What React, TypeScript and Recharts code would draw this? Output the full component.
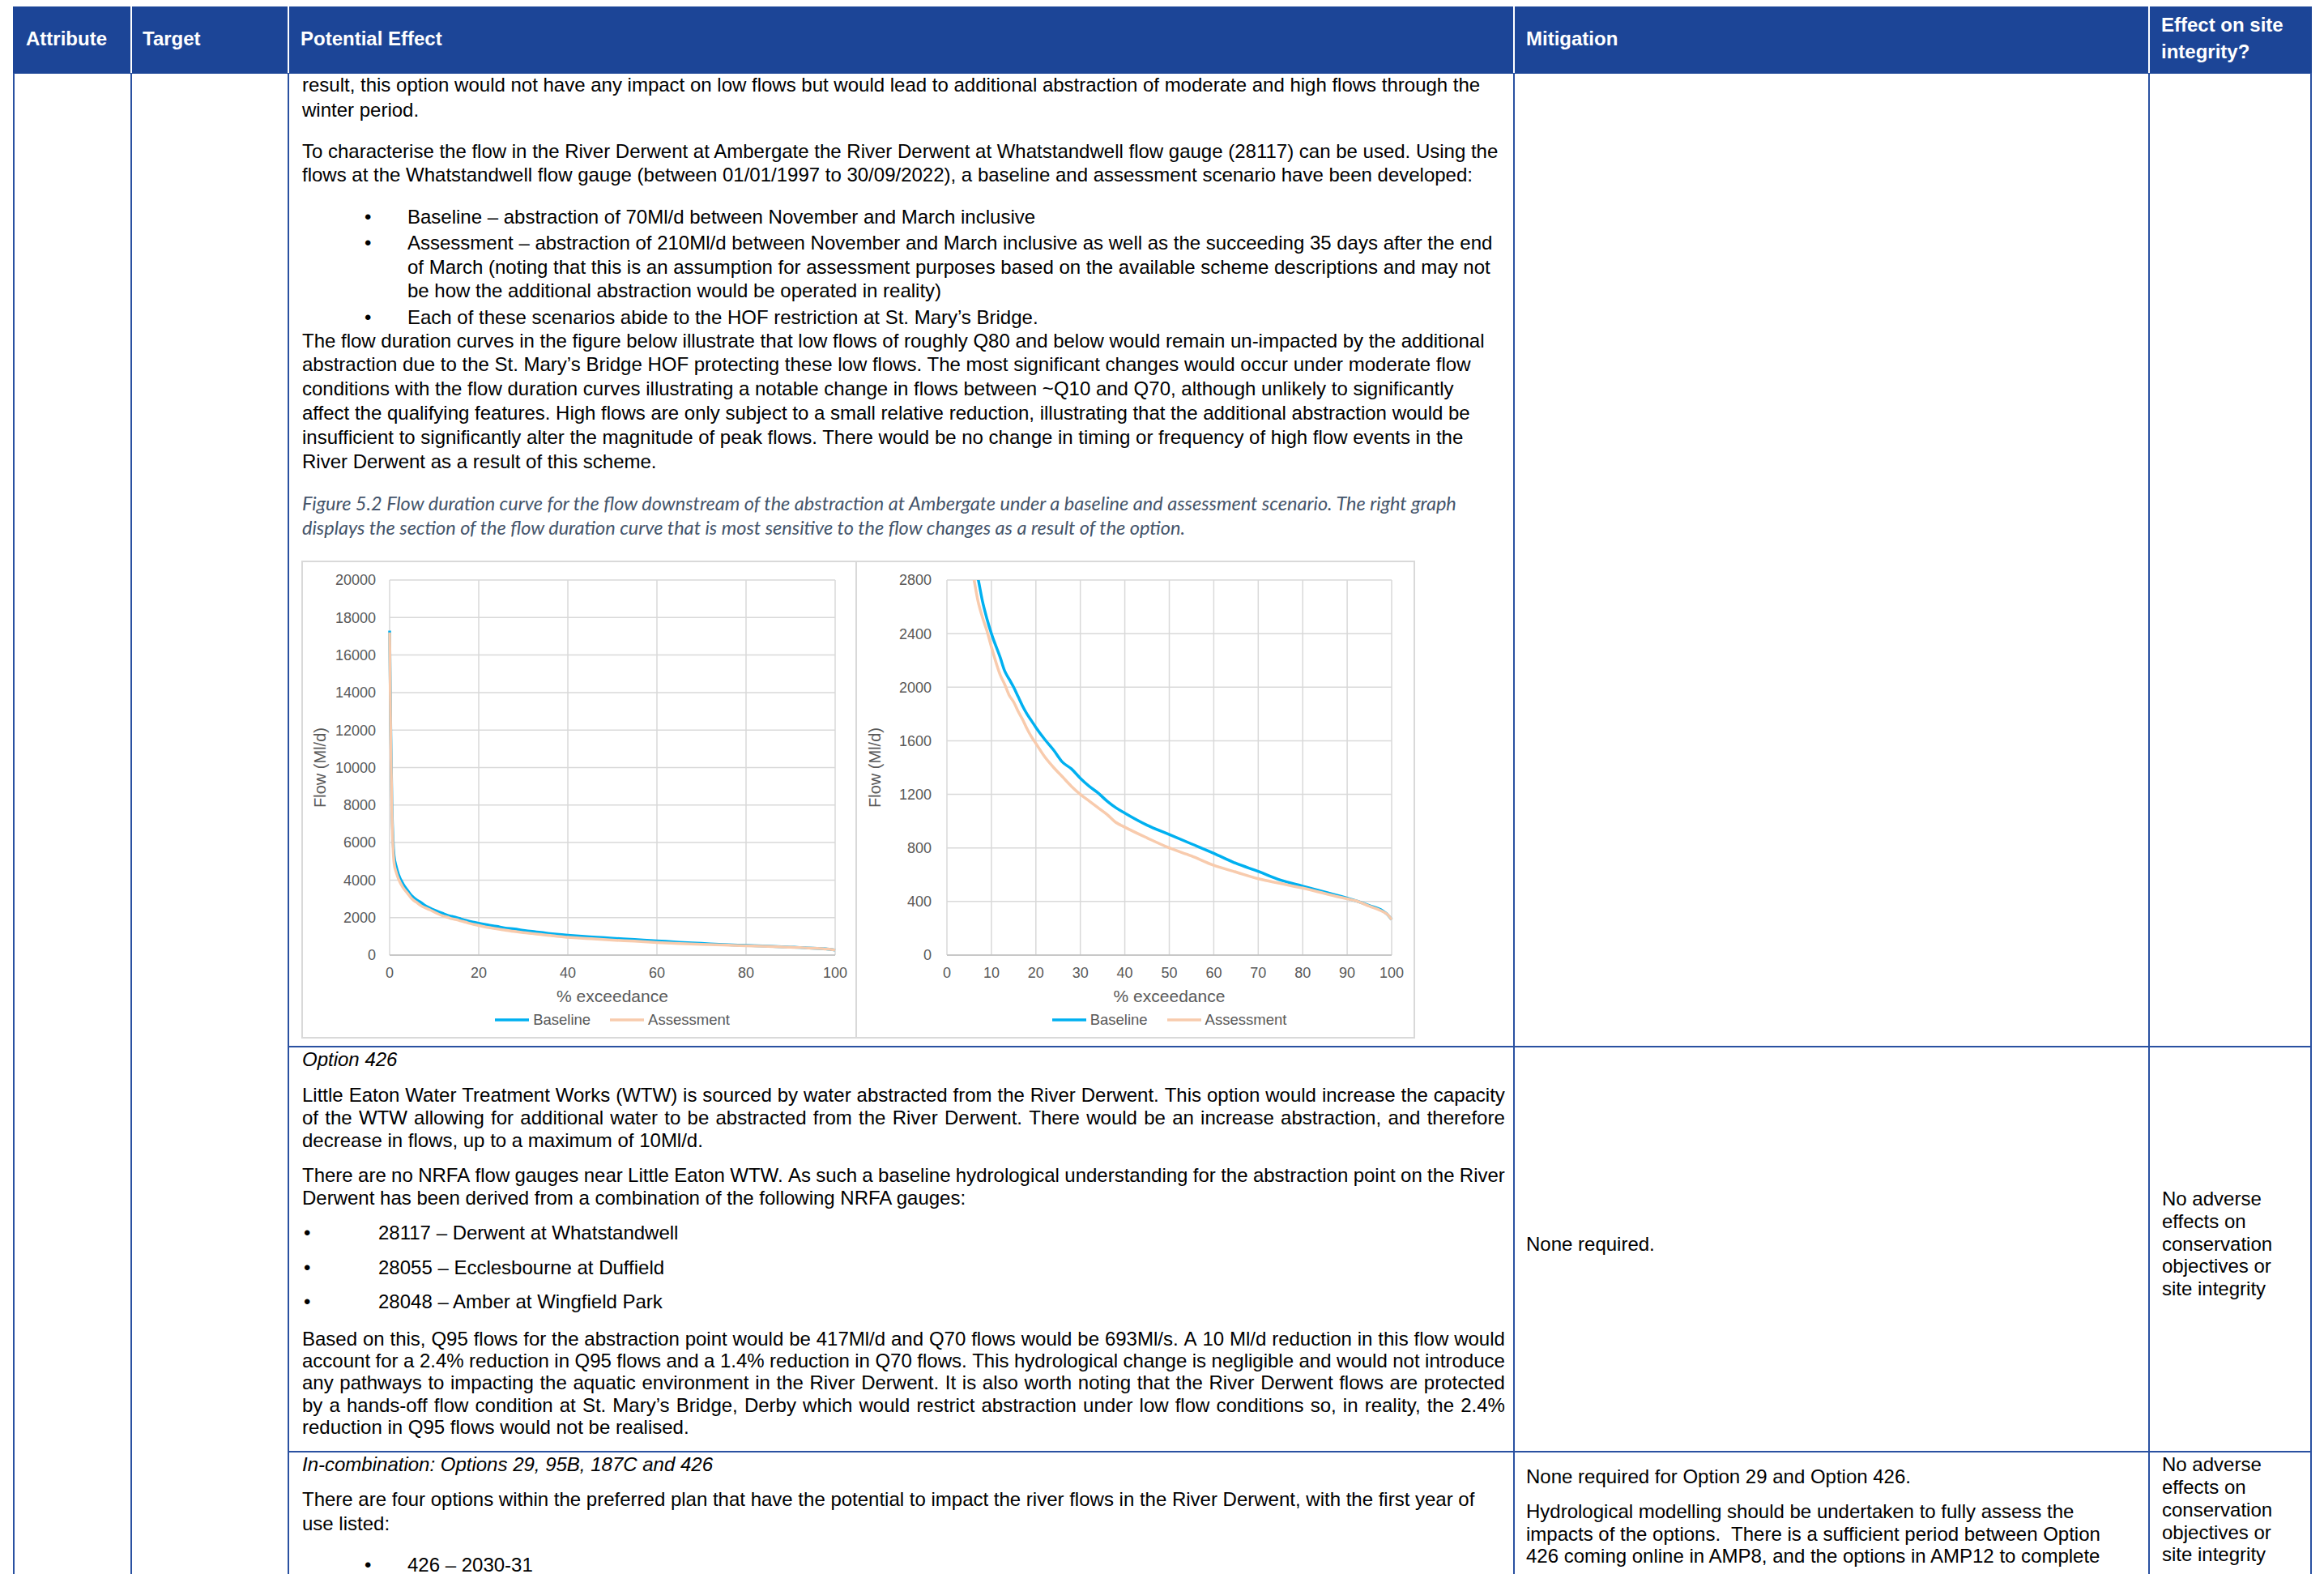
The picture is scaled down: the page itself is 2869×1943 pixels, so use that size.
import React from 'react';
import { LineChart, Line, XAxis, YAxis, CartesianGrid, Legend, Label } from 'recharts';

// Flow duration curve: % exceedance vs flow (Ml/d)
const exceedance = [0, 0.25, 0.5, 0.75, 1, 1.5, 2, 3, 4, 5, 6, 7, 8, 9, 10, 12, 13, 14, 15, 16, 17, 18, 19, 20, 22, 24, 26, 28, 30, 32, 34, 36, 38, 40, 45, 50, 55, 60, 65, 70, 75, 80, 85, 90, 92, 95, 98, 99, 100];
const baselineFlow = [17300, 12000, 8200, 6200, 5300, 4700, 4300, 3800, 3450, 3150, 2950, 2810, 2640, 2510, 2400, 2220, 2120, 2060, 2000, 1930, 1860, 1800, 1750, 1700, 1610, 1530, 1440, 1390, 1320, 1260, 1210, 1150, 1100, 1060, 970, 900, 830, 760, 685, 625, 560, 515, 470, 425, 405, 370, 330, 305, 265];
const assessmentFlow = [17200, 11600, 7800, 5800, 4900, 4400, 4050, 3600, 3300, 3000, 2820, 2640, 2520, 2420, 2300, 2090, 2020, 1940, 1890, 1820, 1760, 1690, 1630, 1580, 1480, 1400, 1330, 1260, 1200, 1150, 1100, 1050, 990, 955, 875, 800, 740, 670, 620, 570, 535, 500, 460, 420, 405, 365, 325, 305, 265];

const seriesNames = ['Baseline', 'Assessment'];
const seriesColors = ['#00B0F0', '#F8CBAD'];

const fullXTicks = [0, 20, 40, 60, 80, 100];
const fullYTicks = [0, 2000, 4000, 6000, 8000, 10000, 12000, 14000, 16000, 18000, 20000];
const zoomXTicks = [0, 10, 20, 30, 40, 50, 60, 70, 80, 90, 100];
const zoomYTicks = [0, 400, 800, 1200, 1600, 2000, 2400, 2800];

const flowData = exceedance.map((p, i) => ({
  p,
  baseline: baselineFlow[i],
  assessment: assessmentFlow[i],
}));

const ARIAL = '"Liberation Sans", Arial, sans-serif';
const AXIS_GREY = '#595959';
const BLUE_HEAD = '#1C4597';
const BLUE_RULE = '#2A51A1';

type ChartProps = {
  width: number;
  height: number;
  yWidth: number;
  rightMargin: number;
  yMax: number;
  yTicks: number[];
  xTicks: number[];
  yTickMargin: number;
  yTitleX: number;
};

function FlowChart(props: ChartProps) {
  const { width, height, yWidth, rightMargin, yMax, yTicks, xTicks, yTickMargin, yTitleX } = props;
  const tickStyle = { fill: AXIS_GREY, fontSize: 18, fontFamily: ARIAL };

  const xTitle = (lp: any) => {
    const vb = lp.viewBox || {};
    return (
      <text x={vb.x + vb.width / 2} y={vb.y + 50} textAnchor="middle" dominantBaseline="central"
        fill={AXIS_GREY} fontSize={21} fontFamily={ARIAL}>% exceedance</text>
    );
  };
  const yTitle = (lp: any) => {
    const vb = lp.viewBox || {};
    const cy = vb.y + vb.height / 2;
    return (
      <text x={yTitleX} y={cy} textAnchor="middle" dominantBaseline="central" transform={`rotate(-90, ${yTitleX}, ${cy})`}
        fill={AXIS_GREY} fontSize={20} fontFamily={ARIAL}>Flow (Ml/d)</text>
    );
  };
  const legend = () => (
    <div style={{ height: 44, display: 'flex', alignItems: 'flex-end', justifyContent: 'center', paddingLeft: yWidth, boxSizing: 'border-box', paddingBottom: 9 }}>
      {seriesNames.map((n, i) => (
        <div key={n} style={{ display: 'flex', alignItems: 'center', marginRight: i === 0 ? 24 : 0 }}>
          <svg width={42} height={6} style={{ display: 'block' }}>
            <line x1={0} y1={3} x2={42} y2={3} stroke={seriesColors[i]} strokeWidth={3.5} />
          </svg>
          <span style={{ marginLeft: 5, fontFamily: ARIAL, fontSize: 18.5, color: AXIS_GREY, lineHeight: '22px' }}>{n}</span>
        </div>
      ))}
    </div>
  );

  return (
    <LineChart width={width} height={height} data={flowData} margin={{ top: 24, right: rightMargin, bottom: 3, left: 0 }}>
      <CartesianGrid stroke="#D9D9D9" strokeWidth={1.5} />
      <XAxis type="number" dataKey="p" domain={[0, 100]} ticks={xTicks} interval={0} height={56}
        tick={tickStyle} tickLine={false} tickSize={6} tickMargin={9}
        axisLine={{ stroke: '#BFBFBF', strokeWidth: 1.5 }}>
        <Label content={xTitle} />
      </XAxis>
      <YAxis type="number" domain={[0, yMax]} ticks={yTicks} interval={0} width={yWidth} allowDataOverflow
        tick={tickStyle} tickLine={false} axisLine={false} tickSize={6} tickMargin={yTickMargin}>
        <Label content={yTitle} />
      </YAxis>
      <Legend verticalAlign="bottom" height={44} content={legend} />
      <Line type="monotone" dataKey="baseline" name={seriesNames[0]} stroke={seriesColors[0]} strokeWidth={3.5} dot={false} isAnimationActive={false} />
      <Line type="monotone" dataKey="assessment" name={seriesNames[1]} stroke={seriesColors[1]} strokeWidth={3.5} dot={false} isAnimationActive={false} />
    </LineChart>
  );
}

type LineProps = {
  x: number;
  y: number;
  text: string;
  w?: number;
  italic?: boolean;
  bold?: boolean;
  size?: number;
  color?: string;
  family?: string;
};

function TextLine({ x, y, text, w, italic, bold, size = 24, color = '#000', family = ARIAL }: LineProps) {
  const style: React.CSSProperties = {
    position: 'absolute', left: x, top: y - 14, height: 28, lineHeight: '28px',
    fontSize: size, fontFamily: family, fontStyle: italic ? 'italic' : 'normal',
    fontWeight: bold ? 'bold' : 'normal', color, whiteSpace: 'pre',
  };
  if (w) {
    return (
      <div style={{ ...style, width: w, display: 'flex', justifyContent: 'space-between' }}>
        {text.split(/\s+/).map((word, i) => <span key={i}>{word}</span>)}
      </div>
    );
  }
  return <div style={style}>{text}</div>;
}

const TX = 373;
const JW = 1485;
const BX = 450;
const BT = 503;

const rowOneLines: [number, number, string][] = [
  [TX, 105, 'result, this option would not have any impact on low flows but would lead to additional abstraction of moderate and high flows through the'],
  [TX, 136, 'winter period.'],
  [TX, 187, 'To characterise the flow in the River Derwent at Ambergate the River Derwent at Whatstandwell flow gauge (28117) can be used. Using the'],
  [TX, 216, 'flows at the Whatstandwell flow gauge (between 01/01/1997 to 30/09/2022), a baseline and assessment scenario have been developed:'],
  [BT, 268, 'Baseline – abstraction of 70Ml/d between November and March inclusive'],
  [BT, 300, 'Assessment – abstraction of 210Ml/d between November and March inclusive as well as the succeeding 35 days after the end'],
  [BT, 330, 'of March (noting that this is an assumption for assessment purposes based on the available scheme descriptions and may not'],
  [BT, 359, 'be how the additional abstraction would be operated in reality)'],
  [BT, 392, 'Each of these scenarios abide to the HOF restriction at St. Mary’s Bridge.'],
  [TX, 421, 'The flow duration curves in the figure below illustrate that low flows of roughly Q80 and below would remain un-impacted by the additional'],
  [TX, 450, 'abstraction due to the St. Mary’s Bridge HOF protecting these low flows. The most significant changes would occur under moderate flow'],
  [TX, 480, 'conditions with the flow duration curves illustrating a notable change in flows between ~Q10 and Q70, although unlikely to significantly'],
  [TX, 510, 'affect the qualifying features. High flows are only subject to a small relative reduction, illustrating that the additional abstraction would be'],
  [TX, 540, 'insufficient to significantly alter the magnitude of peak flows. There would be no change in timing or frequency of high flow events in the'],
  [TX, 570, 'River Derwent as a result of this scheme.'],
];
const rowOneBullets = [268, 300, 392];

const captionLines: [number, string][] = [
  [621, 'Figure 5.2 Flow duration curve for the flow downstream of the abstraction at Ambergate under a baseline and assessment scenario. The right graph'],
  [651, 'displays the section of the flow duration curve that is most sensitive to the flow changes as a result of the option.'],
];

// [y, text, justified]
const rowTwoLines: [number, string, boolean][] = [
  [1352, 'Little Eaton Water Treatment Works (WTW) is sourced by water abstracted from the River Derwent. This option would increase the capacity', true],
  [1380, 'of the WTW allowing for additional water to be abstracted from the River Derwent.  There would be an increase abstraction, and therefore', true],
  [1408, 'decrease in flows, up to a maximum of 10Ml/d.', false],
  [1451, 'There are no NRFA flow gauges near Little Eaton WTW. As such a baseline hydrological understanding for the abstraction point on the River', true],
  [1479, 'Derwent has been derived from a combination of the following NRFA gauges:', false],
  [1653, 'Based on this, Q95 flows for the abstraction point would be 417Ml/d and Q70 flows would be 693Ml/s. A 10 Ml/d reduction in this flow would', true],
  [1680, 'account for a 2.4% reduction in Q95 flows and a 1.4% reduction in Q70 flows. This hydrological change is negligible and would not introduce', true],
  [1707, 'any pathways to impacting the aquatic environment in the River Derwent. It is also worth noting that the River Derwent flows are protected', true],
  [1735, 'by a hands-off flow condition at St. Mary’s Bridge, Derby which would restrict abstraction under low flow conditions so, in reality, the 2.4%', true],
  [1762, 'reduction in Q95 flows would not be realised.', false],
];
const gaugeLines: [number, string][] = [
  [1522, '28117 – Derwent at Whatstandwell'],
  [1565, '28055 – Ecclesbourne at Duffield'],
  [1607, '28048 – Amber at Wingfield Park'],
];

const mitigationLines: [number, string][] = [
  [1536, 'None required.'],
  [1823, 'None required for Option 29 and Option 426.'],
  [1866, 'Hydrological modelling should be undertaken to fully assess the'],
  [1894, 'impacts of the options.  There is a sufficient period between Option'],
  [1921, '426 coming online in AMP8, and the options in AMP12 to complete'],
];
const effectWords = ['No adverse', 'effects on', 'conservation', 'objectives or', 'site integrity'];
const effectTops = [[1480, 1508, 1536, 1563, 1591], [1808, 1836, 1864, 1892, 1919]];

function Rule({ x, y, w, h, c = BLUE_RULE }: { x: number; y: number; w: number; h: number; c?: string }) {
  return <div style={{ position: 'absolute', left: x, top: y, width: w, height: h, background: c }} />;
}

export default function App() {
  const colLines = [162, 356, 1869, 2653];
  return (
    <div style={{ position: 'absolute', left: 0, top: 0, width: 2869, height: 1943, overflow: 'hidden', background: '#fff', fontFamily: ARIAL }}>
      {/* header band */}
      <div style={{ position: 'absolute', left: 16, top: 8, width: 2838, height: 83, background: BLUE_HEAD }} />
      {colLines.map((cx) => <Rule key={'h' + cx} x={cx - 1} y={8} w={2} h={83} c="#FFFFFF" />)}
      <TextLine x={32} y={48} text="Attribute" bold color="#fff" />
      <TextLine x={176} y={48} text="Target" bold color="#fff" />
      <TextLine x={371} y={48} text="Potential Effect" bold color="#fff" />
      <TextLine x={1884} y={48} text="Mitigation" bold color="#fff" />
      <TextLine x={2668} y={31} text="Effect on site" bold color="#fff" />
      <TextLine x={2668} y={64} text="integrity?" bold color="#fff" />

      {/* body rules */}
      <Rule x={16} y={90} w={2} h={1853} />
      {colLines.map((cx) => <Rule key={'b' + cx} x={cx - 1} y={90} w={2} h={1853} />)}
      <Rule x={2852} y={90} w={2} h={1853} />
      <Rule x={356} y={1291} w={2498} h={2} />
      <Rule x={356} y={1791} w={2498} h={2} />

      {/* row one */}
      {rowOneLines.map(([x, y, t], i) => <TextLine key={'r1' + i} x={x} y={y} text={t} />)}
      {rowOneBullets.map((y) => <TextLine key={'b1' + y} x={BX} y={y} text="•" />)}
      {captionLines.map(([y, t]) => (
        <TextLine key={'c' + y} x={TX} y={y} text={t} italic size={23.5} color="#44546A" family='Lato, "Open Sans", sans-serif' />
      ))}

      {/* figure: two flow duration charts */}
      <div style={{ position: 'absolute', left: 372, top: 692 }}>
        <FlowChart width={686} height={590} yWidth={109} rightMargin={27} yMax={20000}
          yTicks={fullYTicks} xTicks={fullXTicks} yTickMargin={11} yTitleX={23} />
      </div>
      <div style={{ position: 'absolute', left: 1058, top: 692 }}>
        <FlowChart width={689} height={590} yWidth={111} rightMargin={29} yMax={2800}
          yTicks={zoomYTicks} xTicks={zoomXTicks} yTickMargin={13} yTitleX={22} />
      </div>
      <div style={{ position: 'absolute', left: 372, top: 692, width: 686, height: 590, border: '2px solid #D9D9D9', boxSizing: 'border-box' }} />
      <div style={{ position: 'absolute', left: 1056, top: 692, width: 691, height: 590, border: '2px solid #D9D9D9', boxSizing: 'border-box' }} />

      {/* row two */}
      <TextLine x={TX} y={1308} text="Option 426" italic />
      {rowTwoLines.map(([y, t, j]) => <TextLine key={'r2' + y} x={TX} y={y} text={t} w={j ? JW : undefined} />)}
      {gaugeLines.map(([y, t]) => (
        <React.Fragment key={'g' + y}>
          <TextLine x={375} y={y} text="•" />
          <TextLine x={467} y={y} text={t} />
        </React.Fragment>
      ))}

      {/* row three */}
      <TextLine x={TX} y={1808} text="In-combination: Options 29, 95B, 187C and 426" italic />
      <TextLine x={TX} y={1851} text="There are four options within the preferred plan that have the potential to impact the river flows in the River Derwent, with the first year of" />
      <TextLine x={TX} y={1881} text="use listed:" />
      <TextLine x={BX} y={1932} text="•" />
      <TextLine x={BT} y={1932} text="426 – 2030-31" />

      {/* mitigation and outcome columns */}
      {mitigationLines.map(([y, t]) => <TextLine key={'m' + y} x={1884} y={y} text={t} />)}
      {effectTops.map((ys, k) => ys.map((y, i) => <TextLine key={'e' + k + i} x={2669} y={y} text={effectWords[i]} />))}
    </div>
  );
}
